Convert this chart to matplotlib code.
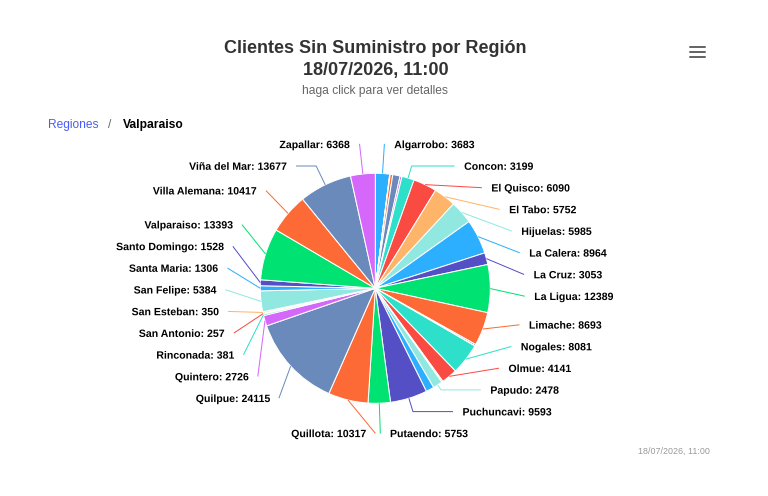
import numpy as np
import matplotlib
matplotlib.use("Agg")
import matplotlib.pyplot as plt
import matplotlib.patheffects as pe

# ---------------- data ----------------
comunas = ["Algarrobo", "Cabildo", "Calle Larga", "Cartagena", "Casablanca", "Catemu",
           "Concon", "El Quisco", "El Tabo", "Hijuelas", "La Calera", "La Cruz",
           "La Ligua", "Limache", "Llaillay", "Los Andes", "Nogales", "Olmue",
           "Panquehue", "Papudo", "Petorca", "Puchuncavi", "Putaendo", "Quillota",
           "Quilpue", "Quintero", "Rinconada", "San Antonio", "San Esteban",
           "San Felipe", "Santa Maria", "Santo Domingo", "Valparaiso",
           "Villa Alemana", "Viña del Mar", "Zapallar"]
clientes = [3683, 80, 60, 650, 1900, 500,
            3199, 6090, 5752, 5985, 8964, 3053,
            12389, 8693, 400, 50, 8081, 4141,
            350, 2478, 2100, 9593, 5753, 10317,
            24115, 2726, 381, 257, 350,
            5384, 1306, 1528, 13393,
            10417, 13677, 6368]
titulo = "Clientes Sin Suministro por Región"
fecha = "18/07/2026, 11:00"
subtitulo = "haga click para ver detalles"
migas = ["Regiones", "Valparaiso"]
paleta = ["#2caffe", "#544fc5", "#00e272", "#fe6a35", "#6b8abc",
          "#d568fb", "#2ee0ca", "#fa4b42", "#feb56a", "#91e8e1"]

# ---------------- layout ----------------
FONT = "Liberation Sans"
plt.rcParams["font.family"] = [FONT, "DejaVu Sans"]
W, H = 768, 496
fig = plt.figure(figsize=(W / 100, H / 100), dpi=100)
ax = fig.add_axes([0, 0, 1, 1])

CX, CY, RAD = 375.3, 288.3, 115.0
DIST = 35.0
R = RAD + DIST
PX = 0.72  # points per pixel

colors = [paleta[i % len(paleta)] for i in range(len(clientes))]
wedges, _ = ax.pie(clientes, colors=colors, startangle=-90, counterclock=True,
                   center=(CX, CY), radius=RAD, frame=True,
                   wedgeprops=dict(edgecolor="white", linewidth=1 * PX))
ax.set_xlim(0, W)
ax.set_ylim(H, 0)
ax.set_aspect("equal")
ax.axis("off")

# ---------------- data labels ----------------
SLOT = 21.7
YMIN, YMAX = CY - R + 6, CY + R - 5
nslots = int((YMAX - YMIN) // SLOT) + 1


def distribute(targets):
    n = len(targets)
    clusters = [[i] for i in range(n)]

    def cpos(c):
        mean = np.mean([targets[i] for i in c])
        first = mean - (len(c) - 1) * SLOT / 2
        return min(max(first, YMIN), YMAX - (len(c) - 1) * SLOT)

    changed = True
    while changed:
        changed = False
        pos = [cpos(c) for c in clusters]
        for k in range(len(clusters) - 1):
            end_k = pos[k] + (len(clusters[k]) - 1) * SLOT
            if pos[k + 1] - end_k < SLOT - 1e-9:
                clusters[k] = clusters[k] + clusters[k + 1]
                del clusters[k + 1]
                changed = True
                break
    res = [0.0] * n
    for c in clusters:
        p = cpos(c)
        for j, i in enumerate(c):
            res[i] = p + j * SLOT
    return res


def getx(y, left):
    s = np.clip((y - CY) / R, -1, 1)
    return CX + (-1 if left else 1) * R * np.cos(np.arcsin(s))


info = []
for i, w in enumerate(wedges):
    th = np.deg2rad((w.theta1 + w.theta2) / 2)
    left = np.cos(th) < 0
    info.append(dict(i=i, th=th, left=left, nat=CY + R * np.sin(th)))

for side in (False, True):
    pts = [p for p in info if p["left"] == side]
    if len(pts) > nslots:
        keep = sorted(pts, key=lambda p: -clientes[p["i"]])[:nslots]
        keep_ids = {p["i"] for p in keep}
        pts = [p for p in pts if p["i"] in keep_ids]
    pts.sort(key=lambda p: p["nat"])
    ys = distribute([p["nat"] for p in pts])
    for p, y in zip(pts, ys):
        i, th, left = p["i"], p["th"], p["left"]
        yu = y + 5 * np.sign(y - CY)
        if p["nat"] < CY - R + 2 or p["nat"] > CY + R - 2:
            yu = p["nat"]
        x = getx(yu, left)
        tx, ty = CX + RAD * np.cos(th), CY + RAD * np.sin(th)
        st = np.sin(th)
        crook = CX + (y - CY) * np.cos(th) / st if abs(st) > 1e-9 else np.inf
        px, py = [x], [y]
        if left:
            if x <= crook <= tx:
                px.append(crook); py.append(y)
        else:
            if tx <= crook <= x:
                px.append(crook); py.append(y)
        px.append(tx); py.append(ty)
        ax.plot(px, py, color=colors[i], lw=1 * PX, solid_capstyle="butt", zorder=1)
        txt = f"{comunas[i]}: {clientes[i]}"
        ax.text(x + (-9.5 if left else 9.5), y + 3.8, txt,
                ha="right" if left else "left", va="baseline",
                fontsize=7.6, fontweight="bold", color="#000000",
                path_effects=[pe.withStroke(linewidth=1.5, foreground="white")])

# ---------------- titles ----------------
ax.text(375.5, 53.3, titulo, ha="center", va="baseline", fontsize=12.96,
        fontweight="bold", color="#333333")
ax.text(375.5, 75.0, fecha, ha="center", va="baseline", fontsize=12.96,
        fontweight="bold", color="#333333")
ax.text(375.3, 94.3, subtitulo, ha="center", va="baseline", fontsize=8.64,
        color="#666666")

# breadcrumbs
ax.text(48.3, 127.7, migas[0], ha="left", va="baseline", fontsize=8.64, color="#4b5cf5")
ax.text(109.5, 127.7, "/", ha="center", va="baseline", fontsize=8.64, color="#666666")
ax.text(122.7, 127.7, migas[1], ha="left", va="baseline", fontsize=8.64,
        fontweight="bold", color="#000000")

# menu icon
for yy in (46.7, 52.0, 56.9):
    ax.plot([690, 705], [yy, yy], color="#666666", lw=2 * PX, solid_capstyle="round")

# credits
ax.text(710, 453.5, fecha, ha="right", va="baseline", fontsize=6.4, color="#999999")

fig.savefig("out.png", dpi=100, facecolor="white")
